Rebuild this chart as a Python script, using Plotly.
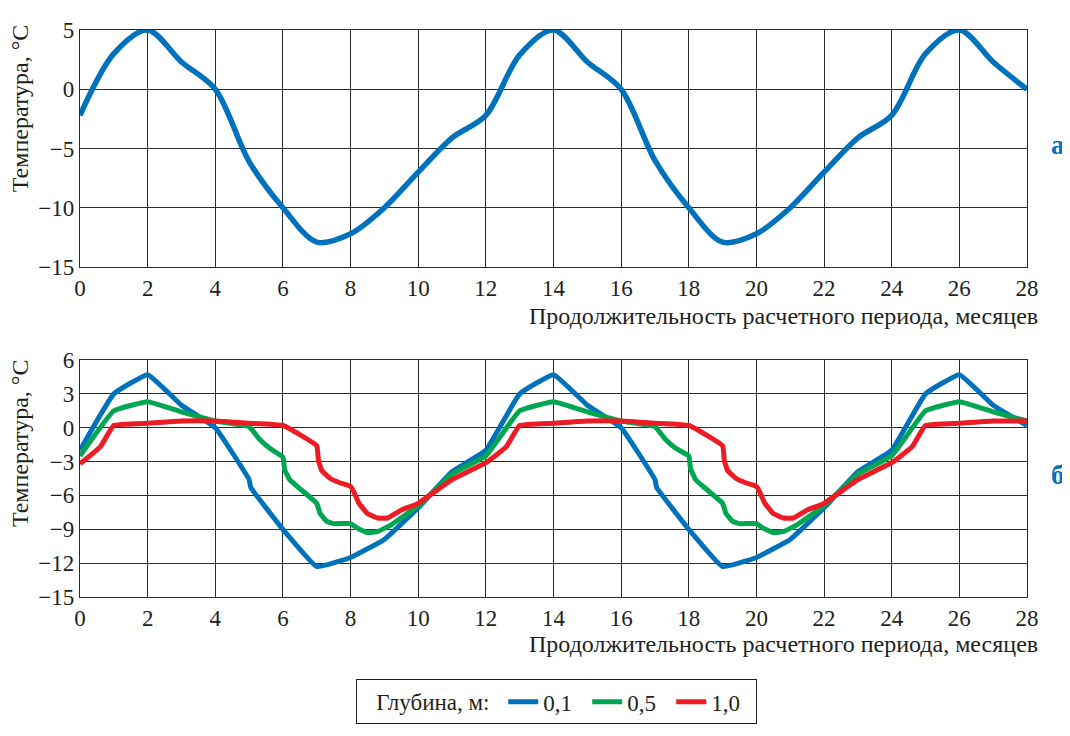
import plotly.graph_objects as go

# ---------- data ----------
months_top = list(range(0, 29))
temp_top = [-2.2, 3.0, 5.0, 2.3, 0.0, -6.1, -10.0, -12.9, -12.2, -10.0, -7.0, -4.1,
            -2.2, 2.9, 5.0, 2.3, 0.0, -6.0, -10.0, -12.9, -12.2, -10.0, -7.0, -4.1,
            -2.2, 3.0, 5.0, 2.3, 0.0]

x_d01 = [0, 1, 2, 3, 4, 5, 5.05, 6, 7, 8, 9, 10, 11,
         12, 13, 14, 15, 16, 17, 17.05, 18, 19, 20, 21, 22, 23,
         24, 25, 26, 27, 28]
y_d01 = [-2.0, 3.0, 4.7, 2.0, 0.0, -4.6, -5.3, -9.0, -12.3, -11.5, -9.9, -7.1, -3.9,
         -2.0, 3.0, 4.7, 2.0, 0.0, -4.6, -5.3, -9.0, -12.3, -11.5, -9.9, -7.1, -3.9,
         -2.0, 3.0, 4.7, 2.0, 0.2]

x_d05 = [0, 1, 2, 3, 4, 5, 5.3, 5.6, 6, 6.05, 6.2, 6.5, 7, 7.1, 7.3, 7.5, 8, 8.2, 8.5, 8.8, 9.2, 10, 11,
         12, 13, 14, 15, 16, 17, 17.3, 17.6, 18, 18.05, 18.2, 18.5, 19, 19.1, 19.3, 19.5, 20, 20.2, 20.5, 20.8, 21.2, 22, 23,
         24, 25, 26, 27, 28]
y_d05 = [-2.5, 1.5, 2.3, 1.4, 0.6, 0.1, -1.0, -1.8, -2.6, -3.7, -4.6, -5.4, -6.7, -7.6, -8.3, -8.5, -8.5, -8.9, -9.3, -9.2, -8.6, -6.9, -4.1,
         -2.5, 1.5, 2.3, 1.4, 0.6, 0.1, -1.0, -1.8, -2.5, -3.6, -4.6, -5.4, -6.7, -7.6, -8.3, -8.5, -8.5, -8.9, -9.3, -9.2, -8.6, -6.9, -4.1,
         -2.5, 1.5, 2.3, 1.4, 0.6]

x_d10 = [0, 0.6, 1, 2, 3, 4, 5, 6, 7, 7.05, 7.15, 7.4, 7.7, 8, 8.1, 8.25, 8.5, 8.8, 9.1, 9.5, 10, 11,
         12, 12.6, 13, 14, 15, 16, 17, 18, 19, 19.05, 19.15, 19.4, 19.7, 20, 20.1, 20.25, 20.5, 20.8, 21.1, 21.5, 22, 23,
         24, 24.6, 25, 26, 27, 28]
y_d10 = [-3.2, -1.7, 0.2, 0.4, 0.6, 0.6, 0.4, 0.2, -1.6, -2.9, -3.8, -4.5, -4.9, -5.2, -5.7, -6.7, -7.6, -8.0, -8.0, -7.3, -6.7, -4.6,
         -3.1, -1.7, 0.2, 0.4, 0.6, 0.6, 0.4, 0.2, -1.6, -2.9, -3.8, -4.5, -4.9, -5.2, -5.7, -6.7, -7.6, -8.0, -8.0, -7.3, -6.7, -4.6,
         -3.1, -1.7, 0.2, 0.4, 0.6, 0.6]

x_ticks = list(range(0, 29, 2))
y_ticks_top = [-15, -10, -5, 0, 5]
y_ticks_bot = [-15, -12, -9, -6, -3, 0, 3, 6]

series_names = ["0,1", "0,5", "1,0"]
series_colors = ["#0072BC", "#00A650", "#ED1C24"]

x_title = "Продолжительность расчетного периода, месяцев"
y_title = "Температура, °С"
legend_title = "Глубина, м:"

# ---------- figure ----------
FONT = "Liberation Serif"
TXT = "#231f20"
GRID = "#2b2b2b"

fig = go.Figure()

fig.add_trace(go.Scatter(x=months_top, y=temp_top, mode="lines",
                         line=dict(color=series_colors[0], width=5.5, shape="spline", smoothing=0.9),
                         showlegend=False, xaxis="x", yaxis="y"))

for xs, ys, name, col in zip([x_d01, x_d05, x_d10], [y_d01, y_d05, y_d10], series_names, series_colors):
    fig.add_trace(go.Scatter(x=xs, y=ys, mode="lines", name=name,
                             line=dict(color=col, width=5, shape="spline", smoothing=0.3),
                             xaxis="x2", yaxis="y2"))

# page body has an 8px margin: figure is drawn at (8, 8)
OFF = 8
W, H = 1070 - OFF, 736 - OFF
L, R, T, B = 80 - OFF, 1070 - 1027, 18 - OFF, 736 - 597
ph = H - T - B
pw = W - L - R

def py(p):  # reference pixel y -> paper
    return (H - B - (p - OFF)) / ph

def px(p):  # reference pixel x -> paper
    return ((p - OFF) - L) / pw

axis_common = dict(showgrid=True, gridcolor=GRID, gridwidth=1.2, zeroline=False,
                   showline=True, linecolor=GRID, linewidth=1.4, mirror=True,
                   ticks="", tickfont=dict(family=FONT, size=23, color=TXT))

NB = "&nbsp;"
fig.update_layout(
    width=W, height=H,
    margin=dict(l=L, r=R, t=T, b=B),
    paper_bgcolor="white", plot_bgcolor="white",
    font=dict(family=FONT, size=23, color=TXT),
    xaxis=dict(domain=[0, 1], range=[0, 28], tickvals=x_ticks, anchor="y", **axis_common),
    yaxis=dict(domain=[py(260), 1], range=[-15, 5], tickvals=y_ticks_top, anchor="x", **axis_common),
    xaxis2=dict(domain=[0, 1], range=[0, 28], tickvals=x_ticks, anchor="y2", **axis_common),
    yaxis2=dict(domain=[0, py(355)], range=[-15, 6], tickvals=y_ticks_bot, anchor="x2", **axis_common),
    legend=dict(orientation="h", x=px(356), y=py(681), xanchor="left", yanchor="top",
                bordercolor=TXT, borderwidth=1, bgcolor="white",
                title=dict(text=NB * 3 + legend_title + NB, side="left",
                           font=dict(family=FONT, size=23, color=TXT)),
                font=dict(family=FONT, size=23, color=TXT), itemwidth=30,
                entrywidth=39, entrywidthmode="pixels"),
    showlegend=True,
)

annots = [
    dict(text=x_title, x=px(1040), y=py(310), xanchor="right", yanchor="middle"),
    dict(text=x_title, x=px(1040), y=py(645), xanchor="right", yanchor="middle"),
    dict(text=y_title, x=px(20), y=py(10), xanchor="center", yanchor="top", textangle=-90),
    dict(text=y_title, x=px(20), y=py(352), xanchor="center", yanchor="top", textangle=-90),
    dict(text="<b>а</b>", x=px(1058), y=py(135), xanchor="center", yanchor="middle",
         font=dict(family=FONT, size=27, color=series_colors[0])),
    dict(text="<b>б</b>", x=px(1058), y=py(472), xanchor="center", yanchor="middle",
         font=dict(family=FONT, size=27, color=series_colors[0])),
]
for a in annots:
    a.setdefault("font", dict(family=FONT, size=24, color=TXT))
    fig.add_annotation(xref="paper", yref="paper", showarrow=False, **a)

fig.write_html("out.html")
